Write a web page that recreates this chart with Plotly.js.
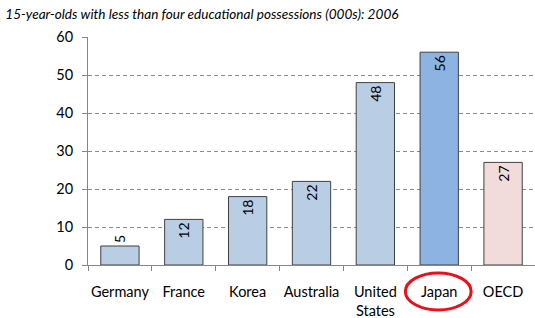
<!DOCTYPE html>
<html><head><meta charset="utf-8">
<script src="https://cdn.plot.ly/plotly-3.0.1.min.js"></script>
<style>html,body{margin:0;padding:0;background:#fff}#chart{width:535px;height:318px}</style>
</head><body><div id="chart"></div>
<script>
var categories = ["Germany", "France", "Korea", "Australia", "United<br>States", "Japan", "OECD"];
var values = [5, 12, 18, 22, 48, 56, 27];
var barColors = ["#b9cde5", "#b9cde5", "#b9cde5", "#b9cde5", "#b9cde5", "#8db3e2", "#f2dcdb"];
var labelPositions = ["outside", "inside", "inside", "inside", "inside", "inside", "inside"];
var yTicks = [0, 10, 20, 30, 40, 50, 60];
var titleText = "15-year-olds with less than four educational possessions (000s): 2006";

var font = "Lato, 'Liberation Sans', sans-serif";
var trace = {
  type: "bar",
  x: categories,
  y: values,
  width: 0.6,
  marker: {color: barColors, line: {color: "#404040", width: 1}},
  text: values.map(String),
  textposition: labelPositions,
  insidetextanchor: "end",
  textangle: -90,
  textfont: {family: font, size: 14, color: "#000"},
  cliponaxis: false,
  hoverinfo: "none"
};
var layout = {
  width: 535, height: 318,
  margin: {l: 88, r: 0, t: 37, b: 53},
  paper_bgcolor: "#fff", plot_bgcolor: "#fff",
  showlegend: false,
  title: {text: "<i>" + titleText + "</i>", x: 0.01, xanchor: "left", y: 0.955, yanchor: "middle",
          font: {family: font, size: 13.6, color: "#000"}},
  xaxis: {
    type: "category",
    showline: true, linecolor: "#868686", linewidth: 1,
    ticks: "outside", tickson: "boundaries", ticklen: 5, tickcolor: "#868686",
    showgrid: false,
    tickangle: 0,
    ticklabelstandoff: 14,
    tickfont: {family: font, size: 14.5, color: "#000"},
    fixedrange: true
  },
  yaxis: {
    range: [0, 60],
    tickvals: yTicks,
    showline: true, linecolor: "#868686", linewidth: 1,
    ticks: "outside", ticklen: 5, tickcolor: "#868686",
    showgrid: true, gridcolor: "#8a8a8a", griddash: "4px,3px", gridwidth: 1,
    zeroline: false,
    ticklabelstandoff: 6,
    tickfont: {family: font, size: 14.5, color: "#000"},
    fixedrange: true
  },
  shapes: [{
    type: "circle", xref: "x", yref: "paper",
    x0: 4.47, x1: 5.5, y0: -0.197, y1: -0.035,
    line: {color: "#e8101a", width: 3}
  }]
};
Plotly.newPlot("chart", [trace], layout, {staticPlot: true, displayModeBar: false});
</script></body></html>
